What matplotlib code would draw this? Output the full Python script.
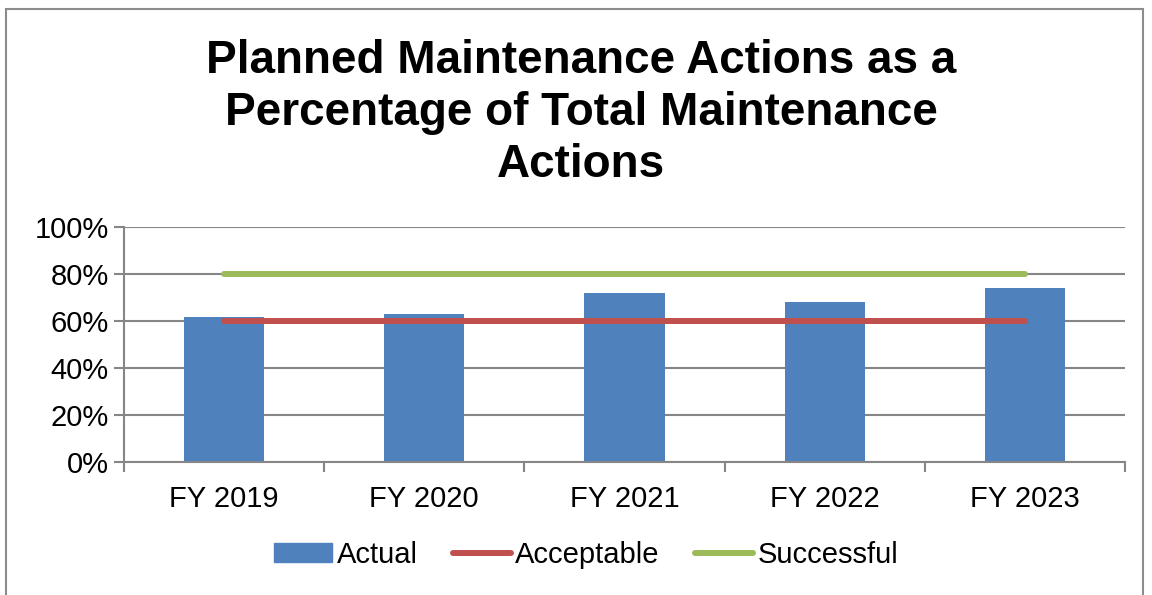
import matplotlib
matplotlib.use("Agg")
import matplotlib.pyplot as plt
from matplotlib.patches import Rectangle
from matplotlib.lines import Line2D
from matplotlib.ticker import FuncFormatter, MultipleLocator
import numpy as np

years = ["FY 2019", "FY 2020", "FY 2021", "FY 2022", "FY 2023"]
actual = [62, 63, 72, 68, 74]
acceptable = [60, 60, 60, 60, 60]
successful = [80, 80, 80, 80, 80]

BLUE, RED, GREEN, GRID = "#4F81BD", "#C0504D", "#9BBB59", "#868686"

plt.rcParams["font.family"] = ["Liberation Sans", "DejaVu Sans"]

fig = plt.figure(figsize=(11.52, 5.95), dpi=100)
# outer chart frame
fig.patches.append(Rectangle((6 / 1152, -0.05), 1137 / 1152, 1.05 - 9 / 595,
                             transform=fig.transFigure, fill=False,
                             edgecolor="#8c8c8c", lw=1.5))

ax = fig.add_axes([124 / 1152, 1 - 462.3 / 595, 1001 / 1152, 235 / 595])
x = np.arange(len(years))
ax.bar(x, actual, width=0.4, color=BLUE, zorder=2)
ax.plot(x, acceptable, color=RED, lw=4.3, solid_capstyle="round", zorder=3)
ax.plot(x, successful, color=GREEN, lw=4.3, solid_capstyle="round", zorder=3)

ax.set_xlim(-0.5, len(years) - 0.5)
ax.set_ylim(0, 100)
ax.yaxis.set_major_locator(MultipleLocator(20))
ax.yaxis.set_major_formatter(FuncFormatter(lambda v, p: f"{v:.0f}%"))
ax.grid(axis="y", color=GRID, lw=1.5, zorder=1)
ax.set_axisbelow(True)

ax.set_xticks(x)
ax.set_xticklabels(years)
ax.set_xticks(np.arange(-0.5, len(years)), minor=True)
ax.tick_params(axis="x", which="major", length=0, labelsize=21, pad=16)
ax.tick_params(axis="x", which="minor", length=7, width=1.5, color=GRID, direction="out")
ax.tick_params(axis="y", length=7, width=1.5, color=GRID, labelsize=21, pad=4)

for s in ["top", "right"]:
    ax.spines[s].set_visible(False)
for s in ["left", "bottom"]:
    ax.spines[s].set_color(GRID)
    ax.spines[s].set_linewidth(1.5)

fig.text(581 / 1152, 1 - 113 / 595,
         "Planned Maintenance Actions as a\nPercentage of Total Maintenance\nActions",
         ha="center", va="center", fontsize=33, fontweight="bold", linespacing=1.24)

handles = [Rectangle((0, 0), 1, 1, color=BLUE),
           Line2D([], [], color=RED, lw=4.3, solid_capstyle="round"),
           Line2D([], [], color=GREEN, lw=4.3, solid_capstyle="round")]
fig.legend(handles, ["Actual", "Acceptable", "Successful"], loc="center",
           bbox_to_anchor=(586 / 1152, 1 - 555 / 595), ncol=3, frameon=False,
           fontsize=21, handlelength=2.0, handleheight=0.65, handletextpad=0.15,
           columnspacing=1.2)

fig.savefig("out.png", dpi=100)
